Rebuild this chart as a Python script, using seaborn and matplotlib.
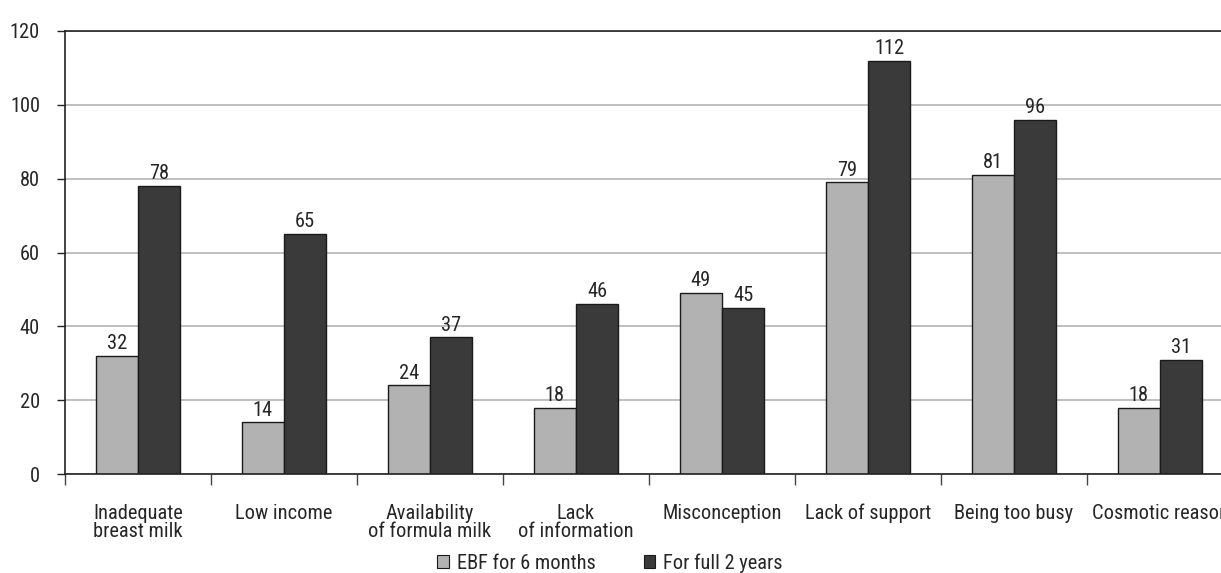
import matplotlib
matplotlib.use("Agg")
import matplotlib.pyplot as plt
import seaborn as sns
import pandas as pd
import numpy as np
from matplotlib.ticker import FixedLocator, NullFormatter, MultipleLocator
from matplotlib import font_manager

categories = ["Inadequate\nbreast milk", "Low income", "Availability\nof formula milk",
              "Lack\nof information", "Misconception", "Lack of support",
              "Being too busy", "Cosmotic reason"]
series_names = ["EBF for 6 months", "For full 2 years"]
ebf_6_months = [32, 14, 24, 18, 49, 79, 81, 18]
full_2_years = [78, 65, 37, 46, 45, 112, 96, 31]
colors = ["#b2b2b2", "#3a3a3a"]

sns.set_style("white")
names = {f.name for f in font_manager.fontManager.ttflist}
fam = [f for f in ["Liberation Sans Narrow", "Roboto Condensed", "Liberation Sans"] if f in names] + ["DejaVu Sans"]
plt.rcParams['font.family'] = fam
FS = 14.7

df = pd.DataFrame({
    "category": categories * 2,
    "series": [series_names[0]] * len(categories) + [series_names[1]] * len(categories),
    "value": ebf_6_months + full_2_years,
})

fig = plt.figure(figsize=(12.21, 5.73), dpi=100)
ax = fig.add_axes([65/1221, 1 - 474/573, 1168/1221, 443/573])
sns.barplot(data=df, x="category", y="value", hue="series", palette=colors,
            width=0.58, edgecolor="#1a1a1a", linewidth=1.0, ax=ax, saturation=1)

for cont in ax.containers:
    ax.bar_label(cont, labels=[f"{v:.0f}" for v in cont.datavalues], padding=2, fontsize=FS)

ax.set_xlim(-0.5, len(categories) - 0.5)
ax.set_ylim(0, 120)
ax.yaxis.set_major_locator(MultipleLocator(20))
ax.yaxis.grid(True, color="#b4b4b4", linewidth=1.2)
ax.set_axisbelow(True)
for s in ["left", "bottom", "top"]:
    ax.spines[s].set_visible(True)
    ax.spines[s].set_color("#222222")
    ax.spines[s].set_linewidth(1.2)
ax.spines["right"].set_visible(False)

ax.tick_params(axis="y", left=True, length=6, width=1, color="#222222", labelsize=FS, pad=12)

ax.xaxis.set_major_locator(FixedLocator(np.arange(len(categories))))
ax.set_xticklabels(categories)
ax.tick_params(axis="x", which="major", length=0, labelsize=FS, pad=21.5)
for lab in ax.get_xticklabels():
    lab.set_verticalalignment("top")
    lab.set_linespacing(0.95)
ax.xaxis.set_minor_locator(FixedLocator(np.arange(len(categories)) - 0.5))
ax.xaxis.set_minor_formatter(NullFormatter())
ax.tick_params(axis="x", which="minor", bottom=True, length=8, width=1, color="#444444")
ax.set_xlabel("")
ax.set_ylabel("")

leg = ax.legend(loc="center", bbox_to_anchor=(610/1221, 1 - 563/573),
                bbox_transform=fig.transFigure, ncol=2, frameon=False, fontsize=FS,
                handlelength=0.55, handleheight=0.55, handletextpad=0.4, columnspacing=2.35,
                borderaxespad=0, borderpad=0)
for h in leg.legend_handles:
    h.set_edgecolor("#1a1a1a")
    h.set_linewidth(0.8)

fig.savefig("out.png", dpi=100)
